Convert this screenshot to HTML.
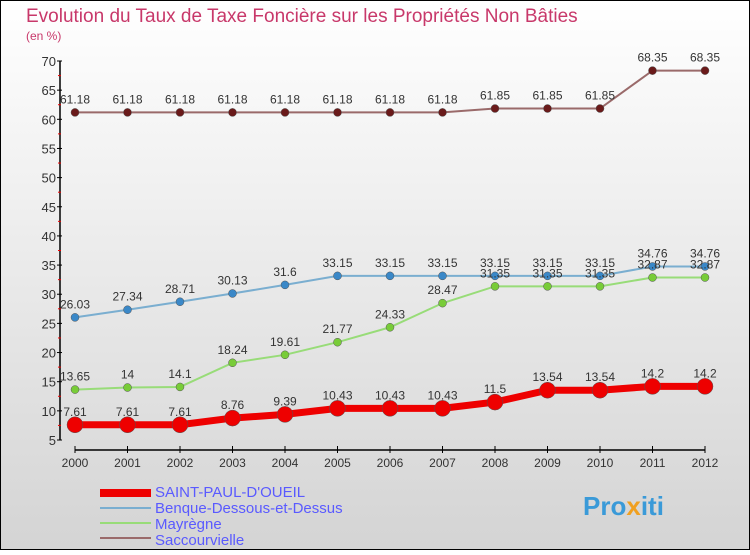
<!DOCTYPE html>
<html><head><meta charset="utf-8"><style>
body{margin:0}
#c{width:750px;height:550px;position:relative;font-family:"Liberation Sans",sans-serif}
</style></head><body>
<div id="c">
<svg id="s" width="750" height="550" xmlns="http://www.w3.org/2000/svg">
<defs><linearGradient id="bg" x1="0" y1="0" x2="0" y2="1"><stop offset="0" stop-color="#ffffff"/><stop offset="1" stop-color="#d4d4d4"/></linearGradient></defs>
<rect x="0.5" y="0.5" width="749" height="549" fill="url(#bg)" stroke="#000"/>
<text x="26" y="22" font-size="19" fill="#c8386a">Evolution du Taux de Taxe Foncière sur les Propriétés Non Bâties</text>
<text x="26" y="40" font-size="12" fill="#c8386a">(en %)</text>
<g id="axes"></g><g id="series"></g>
<g>
<rect x="100" y="489" width="51" height="8" fill="#e00"/>
<text x="155" y="497" font-size="15" fill="#5a5aff">SAINT-PAUL-D'OUEIL</text>
<line x1="100" y1="508" x2="151" y2="508" stroke="#7aaed0" stroke-width="2"/>
<text x="155" y="513" font-size="15" fill="#5a5aff">Benque-Dessous-et-Dessus</text>
<line x1="100" y1="523" x2="151" y2="523" stroke="#98dc78" stroke-width="2"/>
<text x="155" y="529" font-size="15" fill="#5a5aff">Mayrègne</text>
<line x1="100" y1="538" x2="151" y2="538" stroke="#9a6a6a" stroke-width="2"/>
<text x="155" y="545" font-size="15" fill="#5a5aff">Saccourvielle</text>
</g>
<text x="583" y="515" font-size="26" font-weight="bold" fill="#3a9ad8">Pro<tspan fill="#f0a020">x</tspan>iti</text>
</svg></div>
<script>
const years=[2000,2001,2002,2003,2004,2005,2006,2007,2008,2009,2010,2011,2012];
const yTicks=[5,10,15,20,25,30,35,40,45,50,55,60,65,70];
const saintPaul=[7.61,7.61,7.61,8.76,9.39,10.43,10.43,10.43,11.5,13.54,13.54,14.2,14.2];
const benque=[26.03,27.34,28.71,30.13,31.6,33.15,33.15,33.15,33.15,33.15,33.15,34.76,34.76];
const mayregne=[13.65,14,14.1,18.24,19.61,21.77,24.33,28.47,31.35,31.35,31.35,32.87,32.87];
const saccourvielle=[61.18,61.18,61.18,61.18,61.18,61.18,61.18,61.18,61.85,61.85,61.85,68.35,68.35];
const NS="http://www.w3.org/2000/svg";
const X=i=>75+i*52.5, Y=v=>440-(v-5)*(379/65);
function mk(t,a,p){const e=document.createElementNS(NS,t);for(const k in a)e.setAttribute(k,a[k]);p.appendChild(e);return e;}
const ax=document.getElementById('axes');
let l=mk('line',{x1:60,y1:Y(70),x2:60,y2:Y(5),stroke:'#000','stroke-width':1.5},ax);


l=mk('line',{x1:75,y1:450,x2:705,y2:450,stroke:'#000','stroke-width':1.5},ax);


yTicks.forEach(v=>{mk('line',{x1:57,y1:Y(v),x2:62,y2:Y(v),stroke:'#000'},ax);
 if(v<70)mk('line',{x1:58,y1:Y(v+2.5),x2:61,y2:Y(v+2.5),stroke:'#e00'},ax);
 const t=mk('text',{x:56,y:Y(v)+5,'font-size':13,'text-anchor':'end',fill:'#333'},ax);t.textContent=v;
 
 });
years.forEach((y,i)=>{mk('line',{x1:X(i),y1:446,x2:X(i),y2:453,stroke:'#000'},ax);
 const t=mk('text',{x:X(i),y:467,'font-size':12,'text-anchor':'middle',fill:'#333'},ax);t.textContent=y;
 
 });
const sg=document.getElementById('series');
function draw(d,col,dot,w,r,name){
 const g=mk('g',{},sg);
 
 
 mk('polyline',{points:d.map((v,i)=>X(i)+','+Y(v)).join(' '),fill:'none',stroke:col,'stroke-width':w},g);
 d.forEach((v,i)=>{const c=mk('circle',{cx:X(i),cy:Y(v),r:r,fill:dot,stroke:'#555','stroke-width':0.5},g);
  
  
  const t=mk('text',{x:X(i),y:Y(v)-9,'font-size':12,'text-anchor':'middle',fill:'#333'},g);t.textContent=v;
  
  });
}
draw(saccourvielle,'#9a6a6a','#6a1a1a',2,4,'saccourvielle');
draw(benque,'#7aaed0','#3a88c8',2,4,'benque');
draw(mayregne,'#98dc78','#78cc38',2,4,'mayregne');
draw(saintPaul,'#e00','#e00',7,8,'saint-paul');
</script>
</body></html>
